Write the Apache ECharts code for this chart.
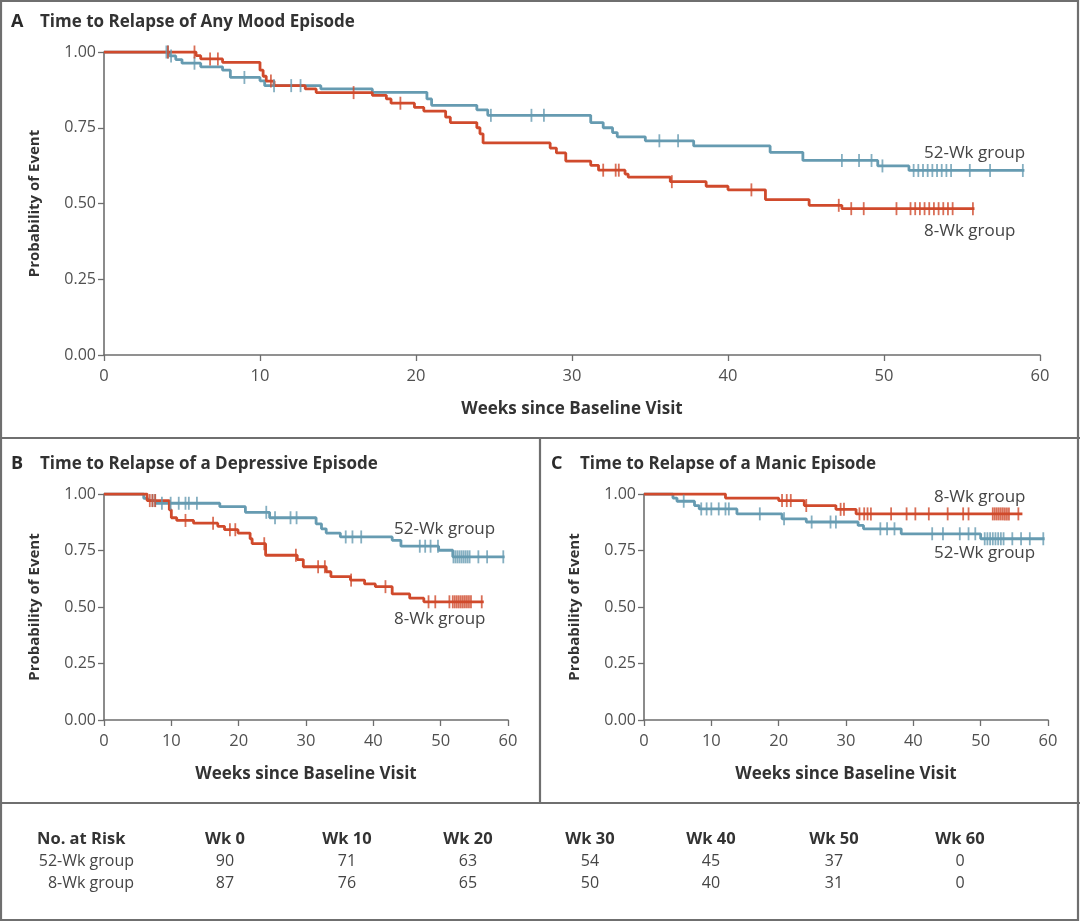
<!DOCTYPE html>
<html><head><meta charset="utf-8">
<script src="https://cdn.jsdelivr.net/npm/echarts@6/dist/echarts.min.js"></script>
<style>html,body{margin:0;padding:0;background:#fff}#c{width:1080px;height:922px}</style>
</head><body><div id="c"></div>
<script>
// ---- Panel A: Any mood episode ----
const A_52_steps = [[0,1],[4.2,0.987],[4.6,0.975],[5.0,0.963],[6.2,0.951],[7.6,0.94],[8.1,0.916],[10.0,0.905],[10.3,0.889],[13.9,0.878],[17.2,0.867],[20.7,0.845],[21.0,0.824],[23.9,0.809],[24.6,0.791],[31.2,0.767],[32.0,0.75],[32.6,0.734],[32.9,0.72],[34.7,0.707],[37.8,0.69],[42.7,0.669],[44.8,0.642],[49.6,0.624],[51.6,0.609]];
const A_52_end = 59.0;
const A_52_cens = [4.0,4.1,4.3,5.8,9.0,10.9,12.0,12.6,24.8,27.4,28.2,35.6,36.8,47.3,48.4,49.2,49.9,51.9,52.2,52.5,52.8,53.1,53.4,53.7,54.0,54.3,55.5,56.8,58.9];
const A_8_steps = [[0,1],[5.9,0.988],[6.2,0.977],[7.6,0.966],[10.0,0.94],[10.2,0.92],[10.4,0.904],[10.9,0.889],[12.9,0.878],[13.6,0.866],[17.2,0.857],[18.1,0.845],[18.4,0.831],[19.9,0.817],[20.5,0.805],[21.9,0.785],[22.2,0.767],[23.9,0.75],[24.1,0.73],[24.3,0.70],[28.6,0.683],[29.0,0.667],[29.6,0.64],[31.2,0.626],[31.7,0.61],[33.4,0.597],[33.6,0.587],[36.3,0.572],[38.6,0.557],[40.0,0.545],[42.4,0.513],[45.2,0.494],[47.3,0.483]];
const A_8_end = 55.8;
const A_8_cens = [4.1,5.8,6.8,7.3,10.7,16.0,19.0,32.0,32.8,33.0,36.4,41.5,47.1,47.9,48.7,50.8,51.7,52.0,52.3,52.6,52.9,53.2,53.5,53.8,54.1,54.4,55.7];
// ---- Panel B: Depressive episode ----
const B_52_steps = [[0,1],[5.9,0.981],[6.5,0.971],[7.7,0.959],[17.2,0.944],[21.0,0.919],[24.6,0.895],[31.5,0.868],[32.3,0.846],[33.0,0.827],[35.1,0.81],[42.8,0.795],[44.1,0.769],[49.7,0.751],[51.8,0.722]];
const B_52_end = 59.5;
const B_52_cens = [7.2,7.6,8.6,9.9,11.1,12.1,12.6,13.8,24.1,25.4,27.7,28.6,35.9,36.9,38.2,46.9,47.7,48.5,49.6,51.9,52.2,52.5,52.8,53.1,53.4,53.7,54.0,54.3,55.6,56.9,59.3];
const B_8_steps = [[0,1],[6.4,0.971],[9.7,0.93],[10.0,0.895],[10.8,0.883],[13.3,0.871],[16.9,0.857],[17.9,0.842],[19.9,0.827],[21.7,0.802],[22.0,0.78],[24.0,0.729],[28.7,0.71],[29.6,0.678],[33.0,0.656],[33.7,0.634],[36.6,0.619],[38.7,0.602],[40.3,0.59],[42.8,0.558],[45.4,0.539],[47.5,0.523]];
const B_8_end = 56.4;
const B_8_cens = [6.8,7.2,7.6,12.1,16.2,18.7,19.5,23.8,28.5,31.8,32.8,36.7,41.8,48.2,49.2,51.3,51.8,52.1,52.4,52.7,53.0,53.3,53.6,53.9,54.2,54.5,56.1];
// ---- Panel C: Manic episode ----
const C_8_steps = [[0,1],[12.1,0.982],[20.0,0.971],[23.8,0.949],[28.5,0.932],[31.5,0.912]];
const C_8_end = 56.2;
const C_8_cens = [20.5,21.2,21.8,24.1,29.2,29.7,32.0,32.7,33.2,33.7,36.7,39.0,40.3,42.3,45.1,47.4,48.2,51.8,52.1,52.4,52.7,53.0,53.3,53.6,53.9,54.2,55.6];
const C_52_steps = [[0,1],[4.3,0.982],[4.9,0.968],[7.5,0.949],[8.2,0.934],[13.8,0.912],[20.5,0.89],[24.1,0.876],[31.8,0.861],[32.6,0.846],[38.2,0.824],[50.0,0.802]];
const C_52_end = 59.5;
const C_52_cens = [5.9,8.5,9.3,10.0,11.1,12.1,12.6,17.2,20.8,24.9,27.7,28.5,35.1,36.1,37.2,42.8,44.4,46.9,48.2,49.2,50.6,51.0,51.4,51.8,52.2,52.6,53.0,53.4,54.7,56.0,57.3,59.3];
// ---- Axis ticks & risk table ----
const xTicks = [0,10,20,30,40,50,60];
const yTicks = [0,0.25,0.5,0.75,1.0];
const riskHeader = ['Wk 0','Wk 10','Wk 20','Wk 30','Wk 40','Wk 50','Wk 60'];
const risk52 = [90,71,63,54,45,37,0];
const risk8 = [87,76,65,50,40,31,0];

const BLUE = '#669bb1', RED = '#d04a2c';
const FONT = '"Open Sans", "Noto Sans", sans-serif';
const TXT = '#333333';

function line(steps, end){ return steps.concat([[end, steps[steps.length-1][1]]]); }
function valAt(steps, t){ let v=1; for(const s of steps){ if(s[0]<=t) v=s[1]; } return v; }
function cens(steps, ts){ return ts.map(t=>[t, valAt(steps,t)]); }

const grids = [
  {left:104, right:40, top:52, bottom:567},
  {left:104, right:572, top:494, bottom:202},
  {left:644, right:32, top:494, bottom:202}
];
function xAx(i){ return {gridIndex:i, type:'value', min:0, max:60, interval:10,
  name:'Weeks since Baseline Visit', nameLocation:'middle', nameGap:46,
  nameTextStyle:{fontFamily:FONT, fontWeight:'bold', fontSize:17, color:TXT},
  axisLine:{lineStyle:{color:'#6e6e6e', width:1.6}},
  axisTick:{show:true, length:6, lineStyle:{color:'#6e6e6e', width:1.3}},
  axisLabel:{fontFamily:FONT, fontSize:16.5, color:'#505050', margin:13},
  splitLine:{show:false}}; }
function yAx(i){ return {gridIndex:i, type:'value', min:0, max:1, interval:0.25,
  name:'Probability of Event', nameLocation:'middle', nameGap:62,
  nameTextStyle:{fontFamily:FONT, fontWeight:'bold', fontSize:15, color:TXT},
  axisLine:{show:true, lineStyle:{color:'#6e6e6e', width:1.6}},
  axisTick:{show:true, length:6, lineStyle:{color:'#6e6e6e', width:1.3}},
  axisLabel:{fontFamily:FONT, fontSize:16, color:'#505050', margin:8, formatter:v=>v.toFixed(2)},
  splitLine:{show:false}}; }

const series = [];
function addGroup(i, steps, end, cs, color){
  series.push({type:'line', xAxisIndex:i, yAxisIndex:i, step:'end', symbol:'none',
    data:line(steps,end), lineStyle:{color, width:2.8}, z:2, animation:false});
  series.push({type:'scatter', xAxisIndex:i, yAxisIndex:i, symbol:'rect', symbolSize:[1.8,13],
    data:cens(steps,cs), itemStyle:{color}, z:3, animation:false});
}
addGroup(0, A_52_steps, A_52_end, A_52_cens, BLUE);
addGroup(0, A_8_steps, A_8_end, A_8_cens, RED);
addGroup(1, B_52_steps, B_52_end, B_52_cens, BLUE);
addGroup(1, B_8_steps, B_8_end, B_8_cens, RED);
addGroup(2, C_52_steps, C_52_end, C_52_cens, BLUE);
addGroup(2, C_8_steps, C_8_end, C_8_cens, RED);

const FR = '#6f6f6f';
const graphic = [
  {type:'rect', shape:{x:1,y:1,width:1077,height:919}, style:{fill:'none', stroke:FR, lineWidth:2.2}},
  {type:'line', shape:{x1:0,y1:438,x2:1080,y2:438}, style:{stroke:FR, lineWidth:2.2}},
  {type:'line', shape:{x1:540,y1:438,x2:540,y2:803}, style:{stroke:FR, lineWidth:2.2}},
  {type:'line', shape:{x1:0,y1:803,x2:1080,y2:803}, style:{stroke:FR, lineWidth:2.2}},
];
function T(x,y,text,opt){ graphic.push({type:'text', x, y, style:Object.assign({text, fontFamily:FONT, fontSize:14, fill:TXT, textVerticalAlign:'middle'}, opt||{})}); }
// panel titles
T(11,22,'A',{fontWeight:'bold', fontSize:18, fill:'#2a2a2a'});
T(40,22,'Time to Relapse of Any Mood Episode',{fontWeight:'bold', fontSize:17});
T(11,464,'B',{fontWeight:'bold', fontSize:18, fill:'#2a2a2a'});
T(40,464,'Time to Relapse of a Depressive Episode',{fontWeight:'bold', fontSize:17});
T(551,464,'C',{fontWeight:'bold', fontSize:18, fill:'#2a2a2a'});
T(580,464,'Time to Relapse of a Manic Episode',{fontWeight:'bold', fontSize:17});
// group labels
const GL = {fontSize:17, fill:'#454545'};
T(924,153,'52-Wk group',GL);
T(924,231,'8-Wk group',GL);
T(394,529,'52-Wk group',GL);
T(394,619,'8-Wk group',GL);
T(934,497,'8-Wk group',GL);
T(934,553,'52-Wk group',GL);
// risk table
const colX = [225,347,468,590,711,834,960];
T(37,839,'No. at Risk',{fontWeight:'bold', fontSize:16.5});
riskHeader.forEach((h,i)=>T(colX[i],839,h,{fontWeight:'bold', fontSize:16.5, textAlign:'center'}));
T(134,861,'52-Wk group',{fontSize:16, textAlign:'right', fill:'#454545'});
T(134,883,'8-Wk group',{fontSize:16, textAlign:'right', fill:'#454545'});
risk52.forEach((v,i)=>T(colX[i],861,String(v),{fontSize:16, textAlign:'center', fill:'#454545'}));
risk8.forEach((v,i)=>T(colX[i],883,String(v),{fontSize:16, textAlign:'center', fill:'#454545'}));

const chart = echarts.init(document.getElementById('c'), null, {renderer:'canvas'});
chart.setOption({
  animation:false, backgroundColor:'#fff',
  grid:grids,
  xAxis:[xAx(0),xAx(1),xAx(2)],
  yAxis:[yAx(0),yAx(1),yAx(2)],
  series, graphic
});
</script></body></html>
